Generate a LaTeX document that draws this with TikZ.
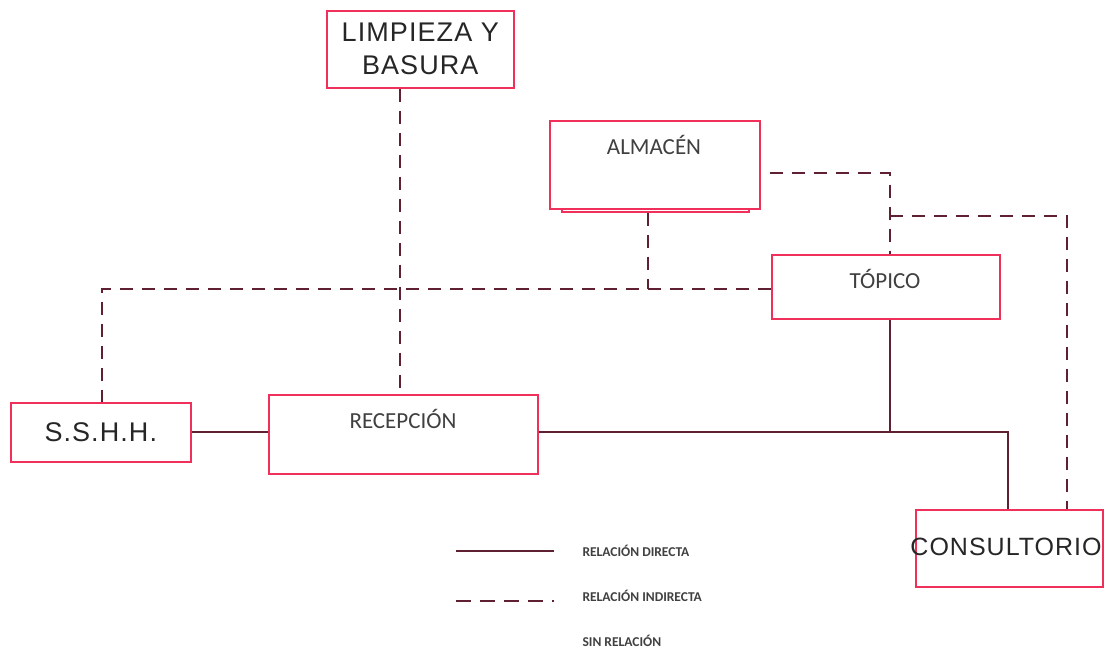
\documentclass[tikz,border=0pt]{standalone}
\usepackage{fontspec}
\setmainfont{Carlito}
\newfontfamily\cad{Liberation Sans}[LetterSpace=4]
\definecolor{boxc}{RGB}{240,48,90}
\definecolor{linec}{RGB}{95,32,50}
\definecolor{txtc}{RGB}{64,64,64}
\tikzset{
  box/.style={draw=boxc, line width=1.6pt, fill=white, anchor=north west, inner sep=0pt},
  cadtxt/.style={font=\cad\fontsize{27}{33}\selectfont, text=black!85, align=center},
  lbl/.style={font=\fontsize{23}{26}\selectfont, text=txtc},
  leg/.style={font=\bfseries\fontsize{13.5}{15}\selectfont, text=txtc, anchor=west},
  direct/.style={draw=linec, line width=1.8pt},
  indirect/.style={draw=linec, line width=1.8pt, dash pattern=on 13pt off 9pt},
}
\begin{document}
\begin{tikzpicture}[x=1pt,y=-1pt]
\useasboundingbox (0,0) rectangle (1106,651);
% junction coordinates
\coordinate (k) at (400,0);
\coordinate (h1) at (102,289);
\coordinate (h2) at (648,289);
\coordinate (a1) at (890,173);
\coordinate (b1) at (890,216);
\coordinate (b2) at (1067,216);
\coordinate (j1) at (890,432);
\coordinate (j2) at (1008,432);
% boxes
\node[box, minimum width=187pt, minimum height=77pt, cadtxt] (limp) at (326,10) {LIMPIEZA Y\\BASURA};
\node[box, minimum width=187pt, minimum height=3pt] (almbase) at (561,208) {};
\node[box, minimum width=210pt, minimum height=88pt] (alm) at (549,120) {};
\node[box, minimum width=228pt, minimum height=64pt] (top) at (771,254) {};
\node[box, minimum width=180pt, minimum height=59pt, cadtxt] (ss) at (10,402) {S.S.H.H.};
\node[box, minimum width=269pt, minimum height=79pt] (rec) at (268,394) {};
\node[box, minimum width=187pt, minimum height=77pt] (cons) at (915,509) {};
% texts
\node[lbl] (almt) at (654,145) {ALMACÉN};
\node[lbl] (topt) at (885,279) {TÓPICO};
\node[lbl] (rect) at (403,419) {RECEPCIÓN};
\node[cadtxt, font=\cad\fontsize{25}{30}\selectfont, inner sep=0pt] (const) at (1006,547) {CONSULTORIO};
% direct connections
\draw[direct] (ss.east |- 0,432) -- (rec.west |- 0,432);
\draw[direct] (rec.east |- j1) -- (j2) -- (cons.north -| j2);
\draw[direct] (top.south -| j1) -- (j1);
% indirect connections
\draw[indirect] (limp.south -| k) -- (rec.north -| k);
\draw[indirect] (top.west |- h1) -- (h1) -- (ss.north -| h1);
\draw[indirect] (almbase.south -| h2) -- (h2);
\draw[indirect] ([xshift=9pt]alm.east |- a1) -- (a1) -- (top.north -| a1);
\draw[indirect] (b1) -- (b2) -- (cons.north -| b2);
% legend
\coordinate (l1a) at (456,551);
\coordinate (l1b) at (554,551);
\coordinate (l2a) at (456,601);
\coordinate (l2b) at (554,601);
\draw[direct] (l1a) -- (l1b);
\draw[indirect, dash pattern=on 15pt off 9pt] (l2a) -- (l2b);
\node[leg] (leg1) at (579,551) {RELACIÓN DIRECTA};
\node[leg] (leg2) at (579,596) {RELACIÓN INDIRECTA};
\node[leg] (leg3) at (579,641) {SIN RELACIÓN};
\end{tikzpicture}
\end{document}
